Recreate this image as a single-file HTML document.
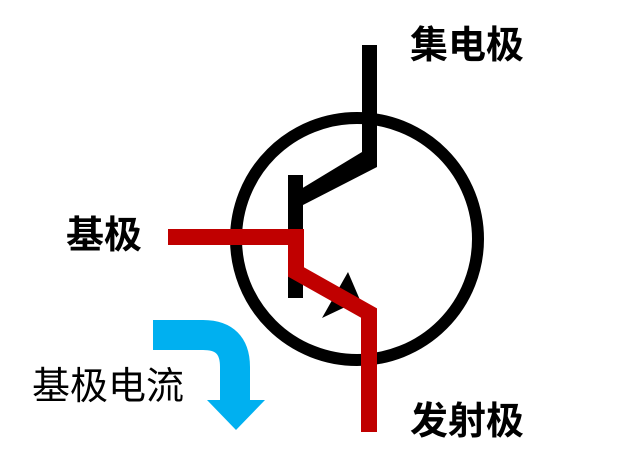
<!DOCTYPE html>
<html><head><meta charset="utf-8"><style>
body{margin:0;background:#fff;width:629px;height:476px;overflow:hidden;position:relative}
.t{position:absolute;font-family:"Liberation Sans","Noto Sans CJK SC",sans-serif;color:#000;white-space:nowrap;line-height:1}
</style></head><body>
<svg width="629" height="476" style="position:absolute;left:0;top:0">
<circle cx="357" cy="239" r="121" fill="none" stroke="#000" stroke-width="12"/>
<rect x="362" y="45" width="15" height="120" fill="#000"/>
<polygon points="362,152 377,160 377,167 303,205 296,192" fill="#000"/>
<rect x="288" y="175" width="15" height="123" fill="#000"/>
<polygon points="322,318 348,272 360,300" fill="#000"/>
<polyline points="168,237 296,237 296,272 369,313 369,432" fill="none" stroke="#c00000" stroke-width="16" stroke-linejoin="miter"/>
<path d="M153,335 H203 Q235,335 235,367 V402" fill="none" stroke="#00b0f0" stroke-width="30"/>
<polygon points="207,400 265,400 236,430" fill="#00b0f0"/>
</svg>
<div class="t" style="left:410px;top:27px;font-size:38px;font-weight:bold">集电极</div>
<div class="t" style="left:66px;top:217px;font-size:38px;font-weight:bold">基极</div>
<div class="t" style="left:32px;top:368px;font-size:38px">基极电流</div>
<div class="t" style="left:410px;top:403px;font-size:38px;font-weight:bold">发射极</div>
</body></html>
